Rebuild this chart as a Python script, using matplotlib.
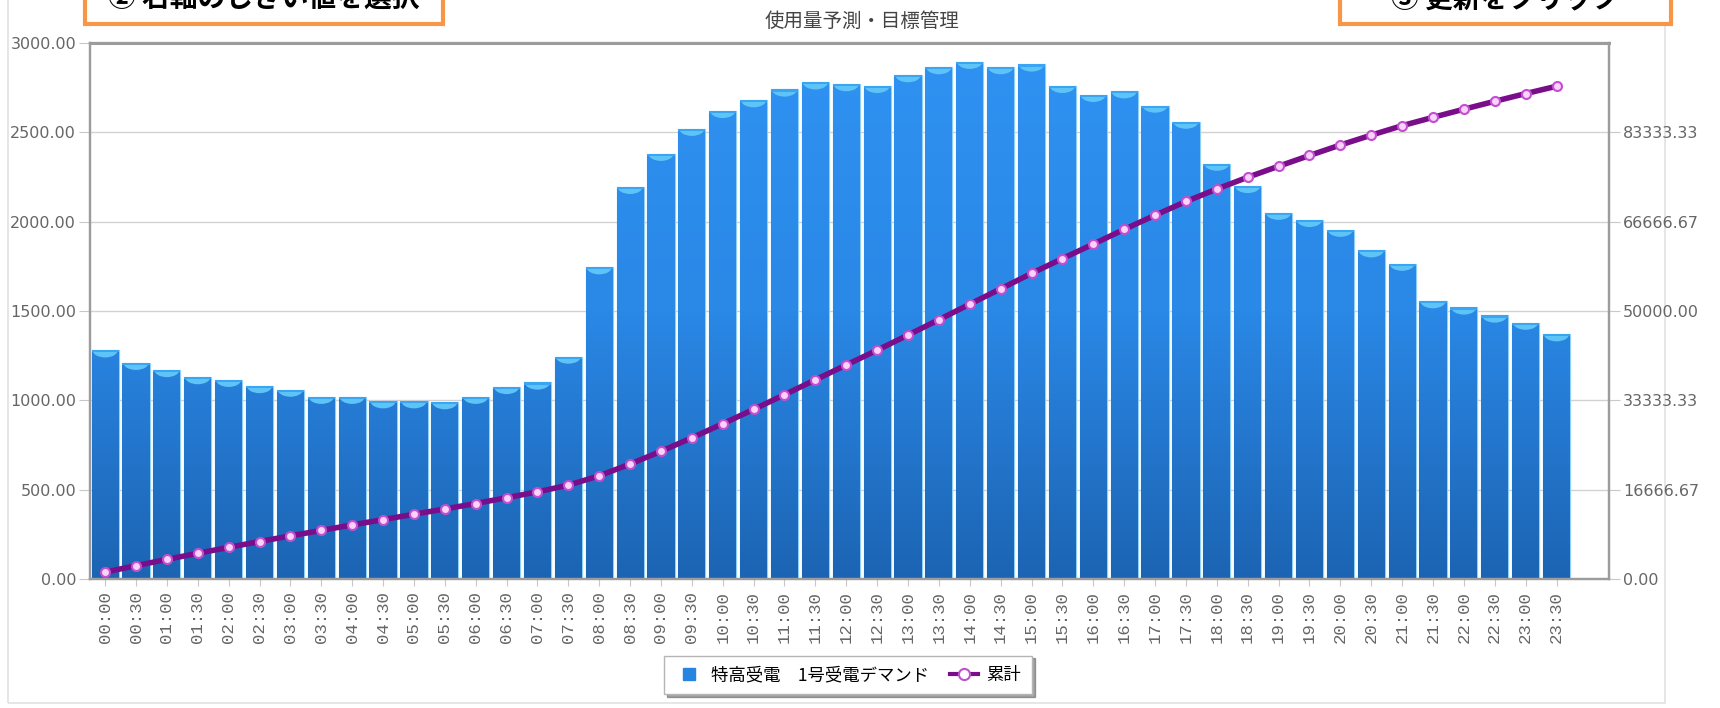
import numpy as np
import matplotlib
matplotlib.use("Agg")
import matplotlib.pyplot as plt
from matplotlib.patches import Rectangle, PathPatch, Ellipse
from matplotlib.path import Path
from matplotlib.lines import Line2D
from matplotlib.colors import LinearSegmentedColormap
from matplotlib.ticker import FormatStrFormatter

plt.rcParams['font.family'] = ['Noto Sans CJK JP', 'DejaVu Sans']

# ---------- Data ----------

time_labels = [
    "00:00", "00:30", "01:00", "01:30", "02:00", "02:30", "03:00", "03:30",
    "04:00", "04:30", "05:00", "05:30", "06:00", "06:30", "07:00", "07:30",
    "08:00", "08:30", "09:00", "09:30", "10:00", "10:30", "11:00", "11:30",
    "12:00", "12:30", "13:00", "13:30", "14:00", "14:30", "15:00", "15:30",
    "16:00", "16:30", "17:00", "17:30", "18:00", "18:30", "19:00", "19:30",
    "20:00", "20:30", "21:00", "21:30", "22:00", "22:30", "23:00", "23:30",
]

# 特高受電 1号受電デマンド (left axis)
demand = [
    1280, 1210, 1170, 1130, 1115, 1080, 1060, 1020,
    1020, 995, 995, 990, 1020, 1075, 1100, 1245,
    1745, 2195, 2380, 2520, 2620, 2680, 2740, 2780,
    2770, 2760, 2820, 2865, 2895, 2865, 2880, 2760,
    2710, 2730, 2650, 2560, 2325, 2200, 2050, 2010,
    1955, 1840, 1765, 1555, 1520, 1475, 1435, 1370,
]

# 累計 (right axis)
cumulative = [
    1280, 2490, 3660, 4790, 5905, 6985, 8045, 9065,
    10085, 11080, 12075, 13065, 14085, 15160, 16260, 17505,
    19250, 21445, 23825, 26345, 28965, 31645, 34385, 37165,
    39935, 42695, 45515, 48380, 51275, 54140, 57020, 59780,
    62490, 65220, 67870, 70430, 72755, 74955, 77005, 79015,
    80970, 82810, 84575, 86130, 87650, 89125, 90560, 91930,
]

left_ticks = [0, 500, 1000, 1500, 2000, 2500, 3000]
right_ticks = [0, 16666.67, 33333.33, 50000.00, 66666.67, 83333.33]

title = "使用量予測・目標管理"
note_left = "② 右軸のしきい値を選択"
note_right = "③ 更新をクリック"

# ---------- Figure ----------

W, H = 1720, 708
fig = plt.figure(figsize=(W / 100, H / 100), dpi=100)
fig.patch.set_facecolor("white")

# outer light frame
fig.add_artist(Rectangle((8 / W, 5 / H), (1665 - 8) / W, 1.0, transform=fig.transFigure,
                         fill=False, edgecolor="#e2e2e2", lw=1.2, zorder=0))

ax = fig.add_axes([90 / W, 1 - 579 / H, (1609 - 90) / W, (579 - 43) / H])
ax2 = ax.twinx()

x = np.arange(len(demand))
bar_w = 0.88

ax.set_xlim(-0.49, 48.7)
ax.set_ylim(0, 3000)
ax2.set_ylim(0, 100000)

# grid
ax.set_axisbelow(True)
ax.yaxis.grid(True, color="#d2d2d2", lw=1)

# bars: outlines
bars = ax.bar(x, demand, width=bar_w, color="#2784e0", edgecolor="#8fd0fa", lw=0.9, zorder=2)

# gradient fill clipped to the bars
verts, codes = [], []
for b in bars:
    x0, y0 = b.get_x(), 0
    x1, y1 = x0 + b.get_width(), b.get_height()
    verts += [(x0, y0), (x1, y0), (x1, y1), (x0, y1), (x0, y0)]
    codes += [Path.MOVETO, Path.LINETO, Path.LINETO, Path.LINETO, Path.CLOSEPOLY]
clip = PathPatch(Path(verts, codes), transform=ax.transData, facecolor="none", edgecolor="none")
ax.add_patch(clip)

cmap = LinearSegmentedColormap.from_list("blu", ["#1c64b3", "#2a88e6", "#2f92f2"])
grad = np.linspace(0, 1, 256).reshape(-1, 1)
im = ax.imshow(grad, extent=(-0.49, 48.7, 0, 3000), origin="lower", aspect="auto",
               cmap=cmap, zorder=2.5)
im.set_clip_path(clip)

# light cap on top of each bar
for xi, v in zip(x, demand):
    cap = Ellipse((xi, v), width=bar_w * 0.92, height=80, facecolor="#5ec4f7",
                  edgecolor="none", zorder=2.7)
    ax.add_patch(cap)
    cap.set_clip_path(clip)
ax.bar(x, [12] * len(x), bottom=np.array(demand) - 12, width=bar_w, color="#3aa5f2",
       lw=0, zorder=2.8)

# cumulative line
ax2.plot(x, cumulative, color="#7a0e8a", lw=4, marker="o", ms=6.5,
         mfc="#fad2fa", mec="#c24fd2", mew=1.5, zorder=5)

# ---------- Axes style ----------

for a in (ax, ax2):
    for s in a.spines.values():
        s.set_color("#9c9c9c")
        s.set_linewidth(1.6)
ax.spines["top"].set_linewidth(2.2)

ax.set_xticks(x)
ax.set_xticklabels(time_labels, rotation=90, family="Liberation Mono", fontsize=12.5,
                   color="#666666")
ax.tick_params(axis="x", length=5, color="#c8c8c8", pad=4)

ax.set_yticks(left_ticks)
ax.yaxis.set_major_formatter(FormatStrFormatter("%.2f"))
ax.tick_params(axis="y", length=8, color="#c8c8c8", labelcolor="#666666", labelsize=11.5,
               pad=2)
for t in ax.get_yticklabels():
    t.set_family("DejaVu Sans")

ax2.set_yticks(right_ticks)
ax2.yaxis.set_major_formatter(FormatStrFormatter("%.2f"))
ax2.tick_params(axis="y", length=8, color="#c8c8c8", labelcolor="#666666", labelsize=11.5,
                pad=2)
for t in ax2.get_yticklabels():
    t.set_family("DejaVu Sans")

# title
fig.text(862 / W, 1 - 21 / H, title, ha="center", va="center", fontsize=14, color="#444444")

# legend
handles = [
    Line2D([], [], ls="none", marker="s", ms=8, mfc="#2784e0", mec="#2784e0"),
    Line2D([], [], color="#7a0e8a", lw=3, marker="o", ms=8, mfc="white", mec="#c24fd2", mew=1.5),
]
leg = fig.legend(handles, ["特高受電　1号受電デマンド", "累計"], loc="center",
                 bbox_to_anchor=(848 / W, 1 - 675 / H), ncol=2, fontsize=12.5,
                 frameon=True, fancybox=False, shadow=True, edgecolor="#b5b5b5",
                 handlelength=1.6, handletextpad=0.5, columnspacing=1.2, borderpad=0.6)
leg.get_frame().set_linewidth(1)

# orange instruction boxes, cut off at the top edge as in the screenshot
for (bx0, bx1, tx, txt) in [(85, 443, 264, note_left), (1340, 1671, 1505, note_right)]:
    fig.add_artist(Rectangle((bx0 / W, 1 - 24 / H), (bx1 - bx0) / W, 60 / H,
                             transform=fig.transFigure, facecolor="white",
                             edgecolor="#f79646", lw=3, zorder=10))
    fig.text(tx / W, 1 + 1 / H, txt, ha="center", va="center", fontsize=20,
             fontweight="bold", color="black", zorder=11)

fig.savefig("out.png", dpi=100)
